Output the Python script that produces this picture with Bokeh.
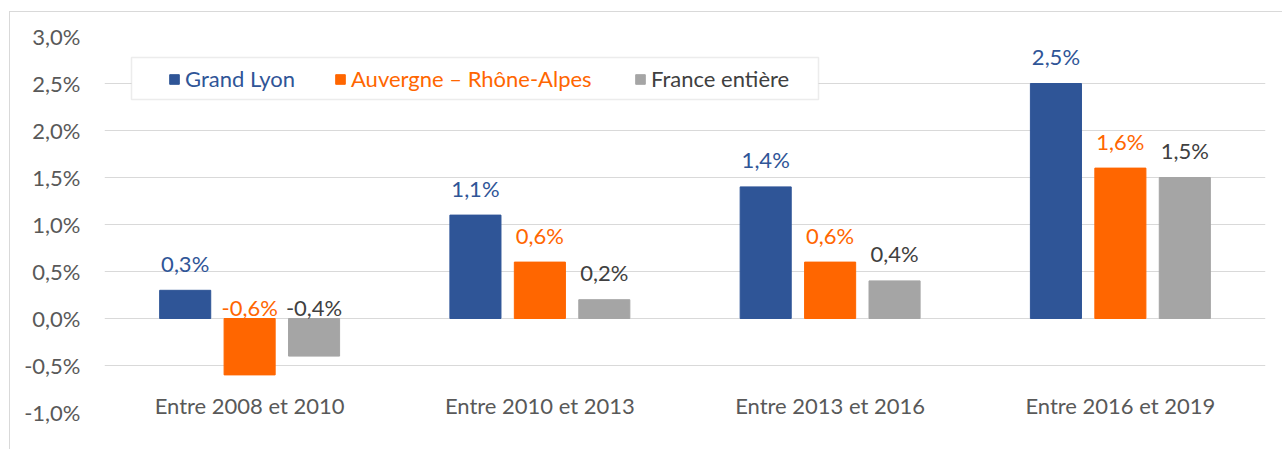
from bokeh.plotting import figure
from bokeh.models import (ColumnDataSource, FactorRange, FixedTicker, CustomJSTickFormatter,
                          Legend, LegendItem, BoxAnnotation)
from bokeh.transform import dodge
from bokeh.core.properties import value
from bokeh.embed import file_html
from bokeh.resources import INLINE

categories = ["Entre 2008 et 2010", "Entre 2010 et 2013", "Entre 2013 et 2016", "Entre 2016 et 2019"]
series_names = ["Grand Lyon", "Auvergne – Rhône-Alpes", "France entière"]
grand_lyon = [0.3, 1.1, 1.4, 2.5]
auvergne_ra = [-0.6, 0.6, 0.6, 1.6]
france = [-0.4, 0.2, 0.4, 1.5]
y_ticks = [-1.0, -0.5, 0.0, 0.5, 1.0, 1.5, 2.0, 2.5, 3.0]

FONT = "Lato"
FS = "22px"
bar_colors = ["#2F5597", "#FF6600", "#A5A5A5"]
label_colors = ["#2F5597", "#FF6600", "#404040"]
offsets = [-0.222, 0.0, 0.222]
BAR_W = 0.176


def fmt(v):
    return f"{v:.1f}".replace(".", ",") + "%"


data = {"cat": categories}
for i, vals in enumerate([grand_lyon, auvergne_ra, france]):
    data[f"v{i}"] = vals
    data[f"ly{i}"] = [max(v, 0.0) for v in vals]
    data[f"off{i}"] = [-27 if v >= 0 else -11 for v in vals]
    data[f"t{i}"] = [fmt(v) for v in vals]
src = ColumnDataSource(data)

p = figure(x_range=FactorRange(factors=categories, range_padding=0), y_range=(-1.0, 3.0),
           width=1273, height=438, output_backend="svg", toolbar_location=None,
           min_border_left=94, min_border_right=18, min_border_top=24, min_border_bottom=38)
p.margin = (11, 0, 0, 9)
p.styles = {"border-top": "1px solid #D9D9D9", "border-left": "1px solid #D9D9D9"}
p.outline_line_color = None
p.background_fill_color = "white"
p.border_fill_color = "white"

# grid
p.xgrid.grid_line_color = None
p.ygrid.grid_line_color = "#D9D9D9"
p.ygrid.grid_line_width = 1
p.yaxis.ticker = FixedTicker(ticks=y_ticks)

# y axis
p.yaxis.axis_line_color = None
p.yaxis.major_tick_line_color = None
p.yaxis.minor_tick_line_color = None
p.yaxis.major_tick_out = 0
p.yaxis.major_label_standoff = 24
p.yaxis.formatter = CustomJSTickFormatter(code="return tick.toFixed(1).replace('.', ',') + '%';")
p.yaxis.major_label_text_font = FONT
p.yaxis.major_label_text_font_size = FS
p.yaxis.major_label_text_color = "#595959"

# x axis (labels drawn up inside the frame)
p.xaxis.axis_line_color = None
p.xaxis.major_tick_line_color = None
p.xaxis.minor_tick_line_color = None
p.xaxis.major_tick_out = 0
p.xaxis.major_label_standoff = -21
p.xaxis.major_label_text_font = FONT
p.xaxis.major_label_text_font_size = FS
p.xaxis.major_label_text_color = "#595959"

# legend frame
box = BoxAnnotation(left=27 / 290.25, right=714 / 290.25, top=3.0 - 21 / 94, bottom=3.0 - 63 / 94,
                    fill_color="white", fill_alpha=1.0, line_color="#BFBFBF", line_width=1.5)
p.add_layout(box)

renderers = []
for i in range(3):
    r = p.vbar(x=dodge("cat", offsets[i], range=p.x_range), top=f"v{i}", width=BAR_W,
               source=src, fill_color=bar_colors[i], line_color=bar_colors[i])
    renderers.append(r)

for i in range(3):
    p.text(x=dodge("cat", offsets[i], range=p.x_range), y=f"ly{i}", text=f"t{i}",
           y_offset=f"off{i}", source=src, text_align="center", text_baseline="middle",
           text_font=value(FONT), text_font_size=FS, text_color=label_colors[i])

leg_x = [64, 230, 530]
for i in range(3):
    lg = Legend(items=[LegendItem(label=series_names[i], renderers=[renderers[i]])],
                location=(leg_x[i], 320), orientation="horizontal",
                glyph_width=12, glyph_height=12, label_standoff=5,
                padding=0, margin=0, spacing=0,
                border_line_color=None, background_fill_alpha=0.0,
                label_text_font=FONT, label_text_font_size=FS, label_text_color=label_colors[i])
    p.add_layout(lg)

open("out.html", "w").write(file_html(p, INLINE))
